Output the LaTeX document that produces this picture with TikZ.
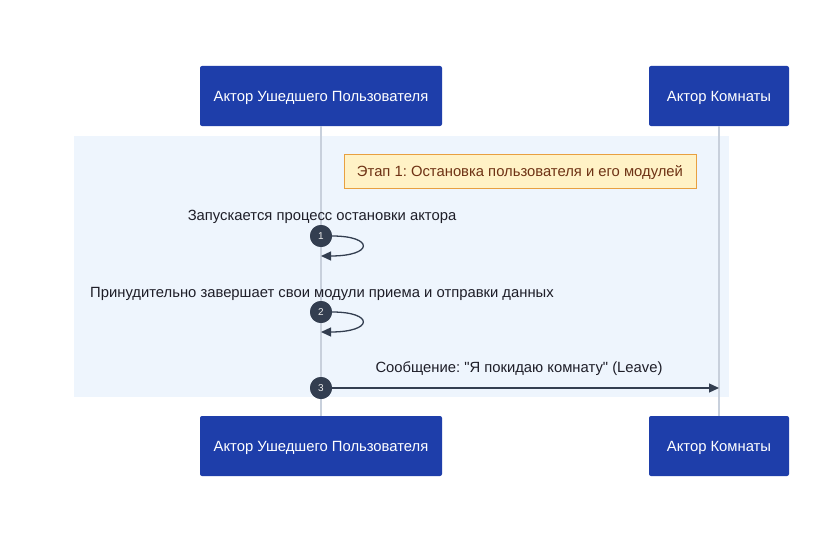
\documentclass[tikz,border=0pt]{standalone}
\usepackage{fontspec}
\setmainfont{Liberation Sans}
\usepackage{tikz}
\usetikzlibrary{arrows.meta}
\frenchspacing
\definecolor{actorblue}{RGB}{30, 62, 170}
\definecolor{lifeline}{RGB}{200, 208, 220}
\definecolor{phasebg}{RGB}{238, 245, 253}
\definecolor{notefill}{RGB}{255, 242, 198}
\definecolor{notedraw}{RGB}{232, 160, 64}
\definecolor{notetext}{RGB}{110, 50, 20}
\definecolor{msgdark}{RGB}{51, 62, 80}
\definecolor{msgtext}{RGB}{30, 30, 40}
\tikzstyle{actor} = [rectangle, rounded corners=2pt, minimum height=60pt, fill=actorblue, text=white, font=\fontsize{14.8}{17}\selectfont, inner sep=0pt, text height=10.6pt, text depth=0pt]
\tikzstyle{note} = [rectangle, minimum height=34pt, minimum width=352pt, draw=notedraw, line width=1pt, fill=notefill, text=notetext, font=\fontsize{14.8}{17}\selectfont, text height=10.6pt, text depth=0pt]
\tikzstyle{msglabel} = [text=msgtext, font=\fontsize{14.8}{17}\selectfont, inner sep=0pt]
\tikzstyle{seqnum} = [circle, fill=msgdark, minimum size=22pt, inner sep=0pt, text=white!85!gray, font=\fontsize{10}{12}\selectfont]
\tikzstyle{life} = [lifeline, line width=1.5pt]
\tikzstyle{arrow} = [msgdark, line width=1.3pt, -{Triangle[length=10pt, width=9pt]}]

\begin{document}
\begin{tikzpicture}[x=1pt, y=-1pt]
     \useasboundingbox[fill=white] (0, 0) rectangle (819, 543);
     % phase background
     \fill[fill = phasebg] (74, 136) rectangle (729, 397);
     % actors
     \node (usertop) at (321, 96) [actor, minimum width=242pt] {Актор Ушедшего Пользователя};
     \node (roomtop) at (719, 96) [actor, minimum width=140pt] {Актор Комнаты};
     \node (userbot) at (321, 446) [actor, minimum width=242pt] {Актор Ушедшего Пользователя};
     \node (roombot) at (719, 446) [actor, minimum width=140pt] {Актор Комнаты};
     \draw[life] (usertop) -- (userbot);
     \draw[life] (roomtop) -- (roombot);
     \node (phase) at (520, 171) [note] {Этап 1: Остановка пользователя и его модулей};
     % message 1
     \node (msgone) at (322, 217) [msglabel] {Запускается процесс остановки актора};
     \coordinate (loopone) at (321, 256);
     \node (numone) at (321, 236) [seqnum] {1};
     \draw[arrow] (numone.east) .. controls (374, 236) and (374, 256) .. (loopone);
     \node (numone) at (321, 236) [seqnum] {1};
     % message 2
     \node (msgtwo) at (322, 294) [msglabel] {Принудительно завершает свои модули приема и отправки данных};
     \coordinate (looptwo) at (321, 332);
     \node (numtwo) at (321, 312) [seqnum] {2};
     \draw[arrow] (numtwo.east) .. controls (374, 312) and (374, 332) .. (looptwo);
     \node (numtwo) at (321, 312) [seqnum] {2};
     % message 3
     \node (msgthree) at (519, 369) [msglabel] {Сообщение: \textquotedbl Я покидаю комнату\textquotedbl{} (Leave)};
     \coordinate (roomleave) at (719, 388);
     \node (numthree) at (321, 388) [seqnum] {3};
     \draw[arrow] (numthree) -- (roomleave);
     \node (numthree) at (321, 388) [seqnum] {3};
\end{tikzpicture}
\end{document}
